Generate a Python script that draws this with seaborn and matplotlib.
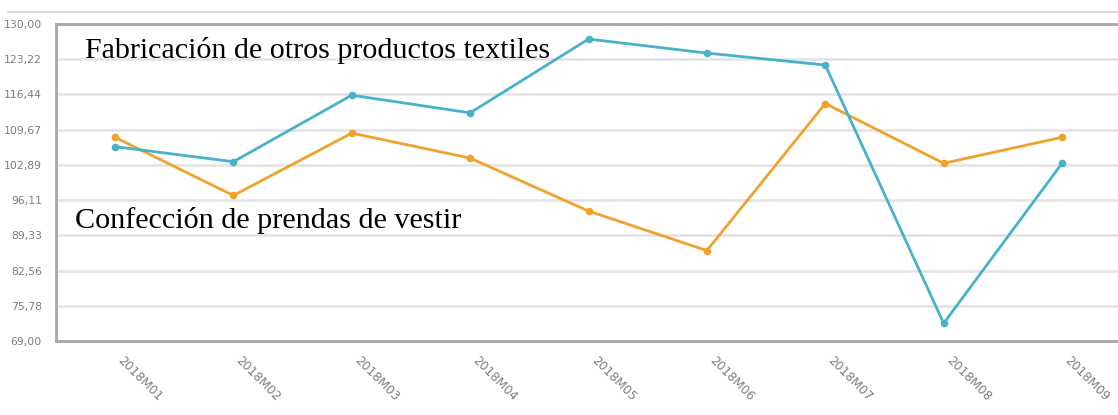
import matplotlib
matplotlib.use("Agg")
import matplotlib.pyplot as plt
from matplotlib.lines import Line2D
import numpy as np
import pandas as pd
import seaborn as sns

# Monthly index values for the two textile industry series
periods = ["2018M01", "2018M02", "2018M03", "2018M04", "2018M05",
           "2018M06", "2018M07", "2018M08", "2018M09"]
otros_textiles = [106.4, 103.5, 116.3, 112.9, 127.1, 124.4, 122.1, 72.4, 103.2]
prendas_vestir = [108.2, 97.0, 109.0, 104.2, 94.0, 86.4, 114.7, 103.2, 108.2]

y_ticks = [69.00, 75.78, 82.56, 89.33, 96.11, 102.89, 109.67, 116.44, 123.22, 130.00]
y_tick_labels = ["69,00", "75,78", "82,56", "89,33", "96,11",
                 "102,89", "109,67", "116,44", "123,22", "130,00"]

label_otros = "Fabricación de otros productos textiles"
label_prendas = "Confección de prendas de vestir"

teal = "#47b2c9"
orange = "#f0a22c"
axis_gray = "#a6a6a6"
grid_gray = "#e3e3e3"
tick_text = "#7d7d7d"

df = pd.DataFrame({
    "periodo": periods * 2,
    "pos": list(range(len(periods))) * 2,
    "valor": otros_textiles + prendas_vestir,
    "serie": [label_otros] * len(periods) + [label_prendas] * len(periods),
})

sns.set_style("white")
plt.rcParams["font.family"] = ["DejaVu Sans"]

fig = plt.figure(figsize=(11.18, 4.15), dpi=100)
ax = fig.add_axes([0.0499, 0.1783, 0.953, 0.7639])

sns.lineplot(data=df, x="pos", y="valor", hue="serie",
             palette={label_otros: teal, label_prendas: orange},
             hue_order=[label_prendas, label_otros],
             marker="o", markersize=5.5, markeredgewidth=0,
             linewidth=2.0, legend=False, ax=ax, zorder=3)

ax.set_xlim(-0.5, len(periods) - 0.5)
ax.set_ylim(y_ticks[0], y_ticks[-1])

ax.set_yticks(y_ticks)
ax.set_yticklabels(y_tick_labels, fontsize=7.8, color=tick_text)
ax.set_xticks(range(len(periods)))
ax.set_xticklabels(periods, rotation=-45, ha="left", va="top",
                   rotation_mode="default", fontsize=8.8, color=tick_text)
ax.set_xticks(np.arange(0.5, len(periods) - 0.5, 1.0), minor=True)

ax.tick_params(axis="x", which="major", length=0, pad=9)
ax.tick_params(axis="x", which="minor", length=3, width=1, color="#c8c8c8",
               direction="out")
ax.tick_params(axis="y", which="major", length=7, width=1.2, color=axis_gray,
               pad=3)

ax.set_xlabel("")
ax.set_ylabel("")

ax.yaxis.grid(True, color=grid_gray, linewidth=1.8)
ax.xaxis.grid(False)
ax.set_axisbelow(True)

for side in ["left", "bottom", "top"]:
    ax.spines[side].set_visible(True)
    ax.spines[side].set_color(axis_gray)
    ax.spines[side].set_linewidth(2.0)
ax.spines["right"].set_visible(False)

serif = ["Liberation Serif", "DejaVu Serif"]
ax.text(0.027, 0.892, label_otros, transform=ax.transAxes,
        fontsize=21.6, family=serif, color="black", va="baseline", ha="left")
ax.text(0.018, 0.355, label_prendas, transform=ax.transAxes,
        fontsize=21.7, family=serif, color="black", va="baseline", ha="left")

# thin separator line above the chart
fig.add_artist(Line2D([0.007, 1.0], [0.971, 0.971], transform=fig.transFigure,
                      color="#dcdcdc", linewidth=1.5))

fig.savefig("out.png", dpi=100)
